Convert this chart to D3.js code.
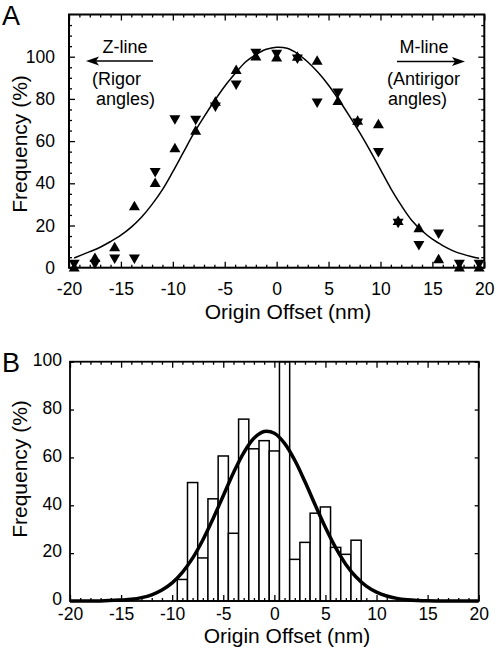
<!DOCTYPE html>
<html><head><meta charset="utf-8">
<script src="https://cdn.jsdelivr.net/npm/d3@7"></script>
<style>
html,body{margin:0;padding:0;background:#fff;}
svg text{font-family:"Liberation Sans",Arial,Helvetica,sans-serif;fill:#000;}
</style></head>
<body>
<svg id="chart" width="498" height="652"></svg>
<script>
// ---------- DATA ----------
// Panel A: measurement positions (nm) and frequencies (%)
const markerX   = [-19.5,-17.5,-15.6,-13.7,-11.7,-9.8,-7.8,-5.9,-3.9,-2.0,0,2.0,3.9,5.9,7.8,9.8,11.7,13.7,15.6,17.6,19.5];
const upValues  = [0.5,5,10,29.5,40.5,57,65.3,79,94,100.5,100,100.3,98.4,79.4,70,68.4,22.5,19,4.4,0.5,0.5];
const downValues= [1.5,1.5,4,4,45,70,69.8,76,86.5,101.5,101,98.8,77.9,82.7,68.5,54.5,21,10.4,15.8,1.5,1.5];
// Panel A fitted curve
const curveAX = [-19.5,-18,-17,-16,-15,-14,-13,-12,-11,-10,-9,-8,-7,-6,-5,-4,-3,-2,-1,0,1,2,3,4,5,6,7,8,9,10,11,12,13,14,15,16,17,18,19,19.5];
const curveAY = [4.6,7.6,9.7,12.4,15.4,19.2,24,30,37,45.5,54.5,63.5,71.5,79,86,92,97.5,101,103.5,104.5,104,101.5,97.5,92.5,86.5,79.5,72,64,55.5,46.5,37.5,29.5,22.5,17.5,13.5,10.5,8,6.3,5,4.5];
// Panel B histogram (1-nm bins)
const binCenters = [-9,-8,-7,-6,-5,-4,-3,-2,-1,0,1,2,3,4,5,6,7,8];
const binValues  = [9,49.5,18,42.7,60.6,28.3,76,63.6,67,62.7,100,17.4,24.5,36.7,39.3,22.4,19.5,25.4];
// Panel B fitted curve
const curveBX = [-20,-17,-15,-14,-13,-12,-11,-10,-9,-8,-7,-6,-5,-4,-3,-2,-1,0,1,2,3,4,5,6,7,8,9,10,11,12,13,14,15,17,20];
const curveBY = [0,0,0.4,0.7,1.4,2.6,4.6,7.6,12,17.9,25.5,34.4,44,53.6,61.9,68,70.8,70.1,65.9,58.8,49.8,40.1,30.7,22.3,15.3,10,6.2,3.7,2.1,1.1,0.55,0.25,0.1,0,0];
// Tick labels
const xTickLabels = [-20,-15,-10,-5,0,5,10,15,20];
const yTickLabels = [0,20,40,60,80,100];

// ---------- DRAW ----------
const svg = d3.select("#chart");
const fmt = d => String(d);
const minorX = d3.range(-20,21,1).filter(v => v % 5 !== 0);

function frameAxes(g, x, y, opt){
  const [x0,x1] = x.range(), [y0,y1] = y.range();
  const style = sel => {
    sel.select(".domain").remove();
    sel.selectAll("line").attr("stroke","#000").attr("stroke-width",1.3);
    sel.selectAll("text").attr("font-size",opt.tickFont).attr("fill","#000")
       .attr("font-family","Liberation Sans, Arial, sans-serif");
  };
  // bottom
  g.append("g").attr("transform",`translate(0,${y0})`)
    .call(d3.axisBottom(x).tickValues(xTickLabels).tickFormat(fmt).tickSize(-opt.majX).tickPadding(opt.xPad)).call(style);
  g.append("g").attr("transform",`translate(0,${y0})`)
    .call(d3.axisBottom(x).tickValues(minorX).tickFormat("").tickSize(-opt.minX)).call(style);
  // top
  g.append("g").attr("transform",`translate(0,${y1})`)
    .call(d3.axisTop(x).tickValues(xTickLabels).tickFormat("").tickSize(-opt.majX)).call(style);
  g.append("g").attr("transform",`translate(0,${y1})`)
    .call(d3.axisTop(x).tickValues(minorX).tickFormat("").tickSize(-opt.minX)).call(style);
  // left
  const la = g.append("g").attr("transform",`translate(${x0},0)`)
    .call(d3.axisLeft(y).tickValues(yTickLabels).tickFormat(fmt).tickSize(-opt.majY).tickPadding(opt.yPad)).call(style);
  if (opt.yShift) la.selectAll("text").attr("dy", opt.yShift);
  // right
  g.append("g").attr("transform",`translate(${x1},0)`)
    .call(d3.axisRight(y).tickValues(yTickLabels).tickFormat("").tickSize(-opt.majY)).call(style);
  if (opt.minorY){
    g.append("g").attr("transform",`translate(${x0},0)`)
      .call(d3.axisLeft(y).tickValues(opt.minorY).tickFormat("").tickSize(-opt.minX)).call(style);
    g.append("g").attr("transform",`translate(${x1},0)`)
      .call(d3.axisRight(y).tickValues(opt.minorY).tickFormat("").tickSize(-opt.minX)).call(style);
  }
  g.append("rect").attr("x",x0).attr("y",y1).attr("width",x1-x0).attr("height",y0-y1)
    .attr("fill","none").attr("stroke","#000").attr("stroke-width",opt.frameW);
}

// ===== Panel A =====
const xA = d3.scaleLinear([-20,20],[69,484.3]);
const yA = d3.scaleLinear([0,120],[267.7,14.5]);
const gA = svg.append("g");

// fitted curve
gA.append("path")
  .attr("d", d3.line().x((d,i)=>xA(curveAX[i])).y(d=>yA(d)).curve(d3.curveCatmullRom)(curveAY))
  .attr("fill","none").attr("stroke","#000").attr("stroke-width",1.5);

const tw = 11, th = 9.5;
const upTri = `M0,${-th/2}L${tw/2},${th/2}L${-tw/2},${th/2}Z`;
const downTri = `M0,${th/2}L${tw/2},${-th/2}L${-tw/2},${-th/2}Z`;
gA.selectAll("path.up").data(upValues).join("path").attr("class","up")
  .attr("d",upTri).attr("transform",(d,i)=>`translate(${xA(markerX[i])},${yA(d)})`).attr("fill","#000");
gA.selectAll("path.down").data(downValues).join("path").attr("class","down")
  .attr("d",downTri).attr("transform",(d,i)=>`translate(${xA(markerX[i])},${yA(d)})`).attr("fill","#000");

frameAxes(gA, xA, yA, {tickFont:17.5, majX:6, minX:3, majY:6, xPad:15, yPad:14, frameW:2,
  minorY: d3.range(5,120,5).filter(v=>v%20!==0)});

// annotations
const ann = svg.append("g").attr("font-size",18);
ann.append("text").attr("x",125).attr("y",53).attr("text-anchor","middle").text("Z-line");
ann.append("text").attr("x",92).attr("y",85).text("(Rigor");
ann.append("text").attr("x",96).attr("y",105).text("angles)");
ann.append("line").attr("x1",95).attr("x2",153).attr("y1",61).attr("y2",61).attr("stroke","#000").attr("stroke-width",1.5);
ann.append("path").attr("d","M86,61L99,56.5L96,61L99,65.5Z").attr("fill","#000");
ann.append("text").attr("x",424).attr("y",53).attr("text-anchor","middle").text("M-line");
ann.append("text").attr("x",387).attr("y",85).text("(Antirigor");
ann.append("text").attr("x",388).attr("y",105).text("angles)");
ann.append("line").attr("x1",397).attr("x2",456).attr("y1",61.5).attr("y2",61.5).attr("stroke","#000").attr("stroke-width",1.5);
ann.append("path").attr("d","M465,61.5L452,57L455,61.5L452,66Z").attr("fill","#000");

// titles A
svg.append("text").attr("x",288).attr("y",319).attr("text-anchor","middle").attr("font-size",21).text("Origin Offset (nm)");
svg.append("text").attr("transform","translate(27,144) rotate(-90)").attr("text-anchor","middle").attr("font-size",21).text("Frequency (%)");
svg.append("text").attr("x",2).attr("y",25).attr("font-size",27).text("A");

// ===== Panel B =====
const xB = d3.scaleLinear([-20,20],[70,478.7]);
const yB = d3.scaleLinear([0,100],[601,361.7]);
const gB = svg.append("g");
gB.selectAll("rect.bar").data(binValues).join("rect").attr("class","bar")
  .attr("x",(d,i)=>xB(binCenters[i]-0.5)).attr("width",(d,i)=>xB(binCenters[i]+0.5)-xB(binCenters[i]-0.5))
  .attr("y",d=>yB(d)).attr("height",d=>yB(0)-yB(d))
  .attr("fill","#fff").attr("stroke","#000").attr("stroke-width",1.5);
gB.append("path")
  .attr("d", d3.line().x((d,i)=>xB(curveBX[i])).y(d=>yB(d)).curve(d3.curveCatmullRom)(curveBY))
  .attr("fill","none").attr("stroke","#000").attr("stroke-width",3.5);

frameAxes(gB, xB, yB, {tickFont:17.5, majX:6, minX:3, majY:4, xPad:7, yPad:8, frameW:1.8, yShift:"0.22em"});

svg.append("text").attr("x",287).attr("y",643).attr("text-anchor","middle").attr("font-size",21).text("Origin Offset (nm)");
svg.append("text").attr("transform","translate(27,469) rotate(-90)").attr("text-anchor","middle").attr("font-size",21).text("Frequency (%)");
svg.append("text").attr("x",2).attr("y",372).attr("font-size",27).text("B");
</script>
</body></html>
